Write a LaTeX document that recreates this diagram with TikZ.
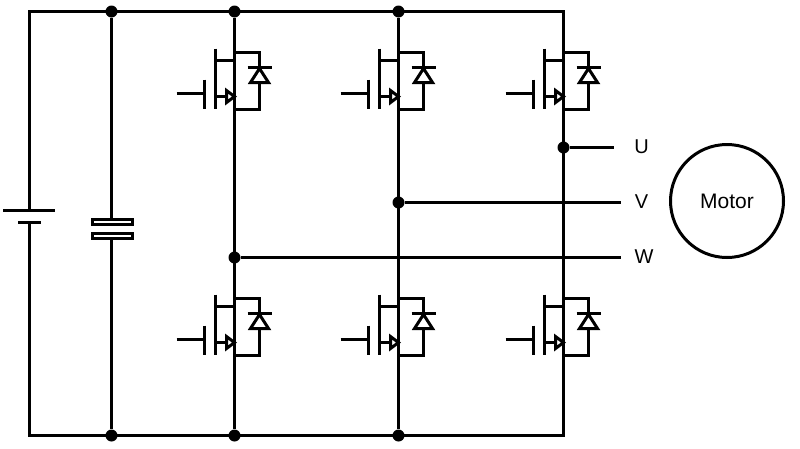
\documentclass[tikz,border=0pt]{standalone}
\usepackage{fontspec}
\setmainfont{Liberation Sans}
\tikzset{
  wire/.style={line width=3pt,black},
  junction/.style={circle,fill=black,inner sep=0pt,minimum size=12pt},
  lbl/.style={font=\fontsize{20}{22}\selectfont,inner sep=0pt,text=black},
  mlbl/.style={font=\fontsize{21}{23}\selectfont,inner sep=0pt,text=black},
  igbt/.pic={
    \draw[wire] (0,-14)--(0,9) -- (-19,9);
    \draw[wire] (-19,-3)--(-19,57);
    \draw[wire] (-30,28)--(-30,57);
    \draw[wire] (-58,42)--(-30,42);
    \draw[wire] (-19,45)--(-8,45);
    \draw[wire,line join=miter] (-8,39)--(0,45)--(-8,51)--cycle;
    \draw[wire] (0,45)--(0,58)--(25,58)--(25,31);
    \draw[wire] (0,1)--(25,1)--(25,16);
    \draw[wire] (13,16)--(37,16);
    \draw[wire,line join=miter] (25,17)--(16,31)--(34,31)--cycle;
  }
}
\begin{document}
\begin{tikzpicture}[x=1pt,y=-1pt]
\useasboundingbox (0,0) rectangle (800,448);
\coordinate (tl) at (29.5,11.5);
\coordinate (tr) at (563.5,11.5);
\coordinate (bl) at (29.5,435.5);
\coordinate (br) at (563.5,435.5);
\coordinate (batt+) at (29.5,210.5);
\coordinate (batt-) at (29.5,222.5);
\coordinate (capA) at (111.5,218);
\coordinate (capB) at (111.5,239);
\node[junction] (jt0) at (111.5,11.5) {};
\node[junction] (jt1) at (234.5,11.5) {};
\node[junction] (jt2) at (398.5,11.5) {};
\node[junction] (jb0) at (111.5,435.5) {};
\node[junction] (jb1) at (234.5,435.5) {};
\node[junction] (jb2) at (398.5,435.5) {};
\node[junction] (ju) at (563.5,147.5) {};
\node[junction] (jv) at (398.5,202.5) {};
\node[junction] (jw) at (234.5,257.5) {};
\coordinate (q1) at (234.5,51.5);
\coordinate (q2) at (398.5,51.5);
\coordinate (q3) at (563.5,51.5);
\coordinate (q4) at (234.5,297.5);
\coordinate (q5) at (398.5,297.5);
\coordinate (q6) at (563.5,297.5);
\coordinate (outU) at (614,147.5);
\coordinate (outV) at (621,202.5);
\coordinate (outW) at (621,257.5);
\draw[wire] (batt+) -- (tl) -- (tr) -- (q3);
\draw[wire] (batt-) -- (bl) -- (br) -- (q6);
\draw[wire] (jt0) -- (capA);
\draw[wire] (capB) -- (jb0);
\draw[wire] (jt1) -- (q1);
\draw[wire] (jt2) -- (q2);
\draw[wire] (q1) -- (q4);
\draw[wire] (q2) -- (q5);
\draw[wire] (q3) -- (q6);
\draw[wire] (q4) -- (jb1);
\draw[wire] (q5) -- (jb2);
\draw[wire] (3,210.5) -- (55,210.5);
\draw[wire] (18,222.5) -- (41,222.5);
\draw[wire,fill=white] (92.5,219.5) rectangle (132.5,224.5);
\draw[wire,fill=white] (92.5,233.5) rectangle (132.5,238.5);
\foreach \q in {q1,q2,q3,q4,q5,q6} \path (\q) pic {igbt};
\draw[wire] (ju) -- (outU);
\draw[wire] (jv) -- (outV);
\draw[wire] (jw) -- (outW);
\node[lbl] (lu) at (641.5,147) {U};
\node[lbl] (lv) at (641.5,202) {V};
\node[lbl] (lw) at (644,257) {W};
\node[draw,circle,line width=3pt,minimum size=113pt,inner sep=0pt,mlbl] (motor) at (727,201) {Motor};
\end{tikzpicture}
\end{document}
